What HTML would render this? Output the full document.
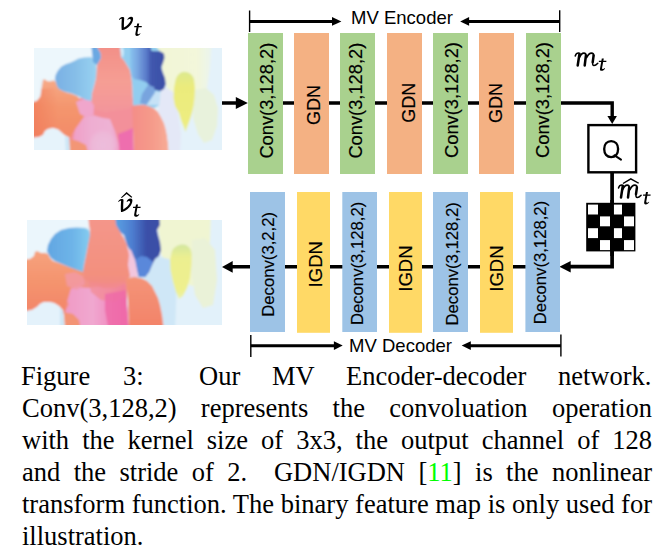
<!DOCTYPE html>
<html><head><meta charset="utf-8">
<style>
html,body{margin:0;padding:0;background:#fff;}
body{width:669px;height:558px;position:relative;overflow:hidden;}
svg{position:absolute;left:0;top:0;}
.cap{position:absolute;left:22px;width:630px;font-family:"Liberation Serif",serif;font-size:26.5px;color:#000;white-space:nowrap;}
.ln{position:absolute;left:0;width:630px;height:32px;line-height:32px;text-align:justify;text-align-last:justify;}
.last{text-align:left;text-align-last:left;}
.l1 span{position:absolute;top:0;}
</style></head>
<body>
<svg width="669" height="558" viewBox="0 0 669 558">
<defs>
  <clipPath id="c1"><rect x="0" y="0" width="188" height="102"/></clipPath>
  <clipPath id="c2"><rect x="0" y="0" width="195" height="105"/></clipPath>
  <filter id="bl" x="-10%" y="-10%" width="120%" height="120%"><feGaussianBlur stdDeviation="0.85"/></filter>
  <filter id="bl2" x="-10%" y="-10%" width="120%" height="120%"><feGaussianBlur stdDeviation="1.2"/></filter>

  <linearGradient id="gPaleY" x1="118" y1="0" x2="178" y2="0" gradientUnits="userSpaceOnUse">
    <stop offset="0" stop-color="#f2f6d6"/><stop offset="0.75" stop-color="#f3f7da"/><stop offset="1" stop-color="#eaf4ee"/>
  </linearGradient>
  <linearGradient id="gSalOv" x1="0" y1="0" x2="24" y2="0" gradientUnits="userSpaceOnUse">
    <stop offset="0" stop-color="#f07454" stop-opacity="0.55"/><stop offset="1" stop-color="#f07454" stop-opacity="0"/>
  </linearGradient>
  <radialGradient id="rgPink"><stop offset="0" stop-color="#ecbedc" stop-opacity="0.9"/><stop offset="0.7" stop-color="#ecbedc" stop-opacity="0.6"/><stop offset="1" stop-color="#ecbedc" stop-opacity="0"/></radialGradient>
  <linearGradient id="gPink" x1="38" y1="0" x2="86" y2="0" gradientUnits="userSpaceOnUse">
    <stop offset="0" stop-color="#f09ec6"/><stop offset="0.4" stop-color="#eeaed2"/><stop offset="0.8" stop-color="#eeb2d4"/><stop offset="1" stop-color="#f0a0c8"/>
  </linearGradient>
  <linearGradient id="gSalL" x1="0" y1="31" x2="0" y2="92" gradientUnits="userSpaceOnUse">
    <stop offset="0" stop-color="#f6aa88"/><stop offset="0.45" stop-color="#f4966e"/><stop offset="1" stop-color="#f38a68"/>
  </linearGradient>
  <linearGradient id="gSalC" x1="0" y1="0" x2="0" y2="68" gradientUnits="userSpaceOnUse">
    <stop offset="0" stop-color="#f39088"/><stop offset="0.5" stop-color="#f59e94"/><stop offset="1" stop-color="#f3949c"/>
  </linearGradient>
  <linearGradient id="gSalR" x1="99" y1="0" x2="135" y2="0" gradientUnits="userSpaceOnUse">
    <stop offset="0" stop-color="#f48e88"/><stop offset="0.5" stop-color="#f59a8a"/><stop offset="1" stop-color="#f8ac96"/>
  </linearGradient>
  <linearGradient id="gBlueL" x1="21" y1="0" x2="62" y2="0" gradientUnits="userSpaceOnUse">
    <stop offset="0" stop-color="#7ab0e4"/><stop offset="0.5" stop-color="#86bee8"/><stop offset="1" stop-color="#98d2f2"/>
  </linearGradient>
  <linearGradient id="gDark" x1="96" y1="0" x2="131" y2="0" gradientUnits="userSpaceOnUse">
    <stop offset="0" stop-color="#88c4ee"/><stop offset="0.2" stop-color="#7aa8e2"/><stop offset="0.48" stop-color="#5878c8"/><stop offset="0.6" stop-color="#4058ae"/><stop offset="1" stop-color="#3b4ea6"/>
  </linearGradient>
  <linearGradient id="gYel" x1="0" y1="24" x2="0" y2="84" gradientUnits="userSpaceOnUse">
    <stop offset="0" stop-color="#dde98e"/><stop offset="0.25" stop-color="#ebeb7c"/><stop offset="0.85" stop-color="#eded80"/><stop offset="1" stop-color="#e6efa6"/>
  </linearGradient>
<linearGradient id="gPink2" x1="36" y1="0" x2="102" y2="0" gradientUnits="userSpaceOnUse">
    <stop offset="0" stop-color="#f09ac4"/><stop offset="0.45" stop-color="#f0a8d0"/><stop offset="0.7" stop-color="#f090c2"/><stop offset="1" stop-color="#ee66a8"/>
  </linearGradient>
  <linearGradient id="gSalL2" x1="0" y1="31" x2="0" y2="92" gradientUnits="userSpaceOnUse">
    <stop offset="0" stop-color="#f6a27e"/><stop offset="0.5" stop-color="#f4946e"/><stop offset="1" stop-color="#f3866a"/>
  </linearGradient>
  <linearGradient id="gSalC2" x1="0" y1="0" x2="0" y2="68" gradientUnits="userSpaceOnUse">
    <stop offset="0" stop-color="#f4968a"/><stop offset="0.8" stop-color="#f3907e"/><stop offset="1" stop-color="#f28a8a"/>
  </linearGradient>
  <linearGradient id="gSalR2" x1="0" y1="57" x2="0" y2="105" gradientUnits="userSpaceOnUse">
    <stop offset="0" stop-color="#f49478"/><stop offset="1" stop-color="#f3846a"/>
  </linearGradient>
  <linearGradient id="gBlueL2" x1="20" y1="0" x2="63" y2="0" gradientUnits="userSpaceOnUse">
    <stop offset="0" stop-color="#62a6e2"/><stop offset="0.6" stop-color="#6eb4e8"/><stop offset="1" stop-color="#84ccf0"/>
  </linearGradient>
  <linearGradient id="gDark2" x1="86" y1="0" x2="134" y2="0" gradientUnits="userSpaceOnUse">
    <stop offset="0" stop-color="#5aa6e6"/><stop offset="0.4" stop-color="#4e7ed0"/><stop offset="0.7" stop-color="#3a50a8"/><stop offset="1" stop-color="#3b4ea6"/>
  </linearGradient>
  <linearGradient id="gYel2" x1="0" y1="24" x2="0" y2="79" gradientUnits="userSpaceOnUse">
    <stop offset="0" stop-color="#d2e6a0"/><stop offset="0.25" stop-color="#ecef90"/><stop offset="0.85" stop-color="#eef08e"/><stop offset="1" stop-color="#eaf2b0"/>
  </linearGradient>
<g id="flow2">
  <rect x="-6" y="-6" width="207" height="117" fill="#e2f1fa"/>
  <path d="M-6,-6 H64 V7 L50,7.5 L42,8 L34,10 L28,14 L24,19 L21,25 L20,31 L14,33 L10,31 L8,32 L7,36 L3,39 L-6,40 Z" fill="#ebf6fc"/>
  <path d="M36,48 L100,48 L100,111 L36,111 Z" fill="#f2928a"/>
  <!-- pink region -->
  <path d="M40,70 L50,67 L62,68 L75,66 L98,62 L102,111 L42,111 L40,100 L38,92 L42,84 L38,78 Z" fill="url(#gPink2)"/>
  <!-- left salmon -->
  <path d="M-6,40 L3,39 L7,36 L8,32 L10,31 L14,33 L18,33 L21,34 L23,38 L26,41 L32,43 L40,46 L48,49 L55,52 L57,58 L52,64 L44,68 L40,82 L38,92 L36,90 L32,86 L27,83 L22,82 L17,82 L13,84 L10,87 L5,90 L-6,92 Z" fill="url(#gSalL2)"/>
  <path d="M37,92 L46,94 L52,100 L54,111 L36,111 Z" fill="#f39474"/>
  <!-- pale yellow -->
  <path d="M128,-6 L184,-6 L183,20 L180,45 L176,62 L165,66 L150,60 L140,45 L134,34 L133,20 L131,8 Z" fill="#f0f5d2"/>
  <!-- light blue region under dark -->
  <path d="M104,34 L130,36 L145,40 L150,60 L148,111 L137,111 L135,95 L133,85 L131,78 L128,72 L125,66 L120,61 L115,58.5 L104,58 Z" fill="#cfe7f7"/>
  <!-- dark blob -->
  <path d="M84,-6 L132,-6 L133,5 L130,10 L131,15 L133,22 L134,30 L132,36 L128,39 L125,45 L122,52 L118,57 L112,57 L110,50 L108,40 L104,32 L100,25 L97,15 L90,10 L86,5 Z" fill="url(#gDark2)"/>
  <path d="M108,40 L114,36 L120,37 L126,42 L122,52 L118,57 L112,57 L110,50 Z" fill="#5a88da"/>
  <!-- pink-lavender patch right of column -->
  <path d="M99,28 L104,30 L108,40 L110,50 L111,57 L101,57 L100,40 Z" fill="#f2c6de"/>
  <!-- central salmon column -->
  <path d="M61,-6 L88,-6 L89,5 L92,10 L95,15 L97,18 L100,25 L102,35 L101,45 L103,56 L98,64 L88,68 L76,68 L64,64 L57,58 L56,50 L58,40 L60,30 L61.5,20 L63,10 L62,5 Z" fill="url(#gSalC2)"/>
  <path d="M62,62 L80,64 L98,62 L99,76 L88,82 L74,80 L64,72 Z" fill="#f28a90" opacity="0.7"/>
  <path d="M78,74 L99,70 L102,111 L82,111 L78,90 Z" fill="#ef6aa8" opacity="0.85"/>
  <path d="M38,54 L48,52 L56,56 L58,64 L50,70 L40,66 Z" fill="#f29aa8" opacity="0.8"/>
  <!-- big right salmon -->
  <path d="M99,58 L108,57 L115,58.5 L120,61 L125,66 L128,72 L131,78 L133,85 L135,95 L137,111 L102,111 L101,80 Z" fill="url(#gSalR2)"/>
  <!-- blue blob -->
  <path d="M20,31 L21,25 L24,19 L28,14 L34,10 L42,8 L50,7.5 L58,8 L62,10 L63,15 L61,25 L59,35 L57,45 L56,52 L50,50 L42,47 L35,44 L28,41 L24,38 L22,35 Z" fill="url(#gBlueL2)"/>
  <!-- pale streaks right -->
  <path d="M165,20 L178,18 L188,30 L190,60 L186,85 L176,88 L168,75 L164,50 Z" fill="#eaf2d8"/>
  <!-- yellow blob -->
  <path d="M156,24.5 C161,25 164,28 164.7,34 L164.5,45 L163,58 L160,68 L156,76 L152,79 L149,72 L146,62 L143.5,50 L143,40 L145,31 C147,27 151,24.5 156,24.5 Z" fill="url(#gYel2)"/>
  <!-- white bottom-left -->
  <path d="M-6,92 L5,90 L10,87 L13,84 L17,82 L22,82 L27,83 L32,86 L35,90 L37,95 L38,111 L-6,111 Z" fill="#e4f2fb"/>
  <path d="M33,88 L36,91 L38,111 L33,111 Z" fill="#cde6f6"/>
</g>
<g id="flow">
  <rect x="-6" y="-6" width="200" height="114" fill="#e4f2fa"/>
  <path d="M-6,-6 H60 V9 L50,9.5 L43,10 L38,13.5 L33,15.5 L27,18 L23,22 L21,31 L19,31.5 L16,32 L13,34 L11,33 L9,31 L6.5,31.5 L6,40 L5,48 L4,52 L-6,53 Z" fill="#edf7fc"/>
  <path d="M35,50 L99,50 L99,108 L35,108 Z" fill="#f3909a"/>
  <!-- pink main region -->
  <path d="M50,68.5 L59.5,67.3 L68,69.7 L76,71 L81,83 L84.6,95 L86,108 L52,108 L50,100 L44,96 L39,95 L40,86 L41.5,80.5 Z" fill="url(#gPink)"/>
  <ellipse cx="69" cy="97" rx="15" ry="16" fill="url(#rgPink)"/>
  <path d="M84,86 L92,83 L99,80 L100,108 L86,108 Z" fill="#ee6eae"/>
  <!-- left salmon blob -->
  <path d="M9.1,31.8 L10.8,31.3 L12.9,32.9 L16.1,33.5 L19.4,32.4 L21.5,33.5 L23.1,37.8 L25.3,41 L29,43.1 L33.3,44.7 L37.6,45.8 L43,48 L45,50 L44,56 L45,63 L50,68.5 L41.5,80.5 L38,86 L37,90 L32,88 L29,86 L27,84 L24,81.5 L19,80 L14,81 L11,83 L9,87 L5,89 L-6,90.5 L-6,54 L0,53.9 L3.2,52.8 L6.5,48.5 L7.5,41 Z" fill="url(#gSalL)"/>
  <path d="M-6,54 L0,53.9 L3.2,52.8 L6.5,48.5 L7.5,41 L20,40 L26,60 L22,80 L14,81 L11,83 L9,87 L5,89 L-6,90.5 Z" fill="url(#gSalOv)"/>
  <path d="M36,91 L44,93 L52,97 L55,108 L35,108 Z" fill="#f39676"/>
  <!-- central salmon column -->
  <path d="M63.5,-6 L86,-6 L87,9 L90,12 L93,17 L96,22 L97.5,30 L98.5,40 L99,58 L94,61 L84,62 L72,64 L62,62 L58,56 L57,52 L58,45 L60,38 L62,30 L62.5,22 L63,17 L67,10 L66.5,5 L63.5,0 Z" fill="url(#gSalC)"/>
  <!-- pink lobe -->
  <path d="M42,54 L50,51 L57,52.5 L60,58 L59.5,67 L52,69 L46,66 Z" fill="#f0a6cc"/>
  <!-- big right salmon -->
  <path d="M98,57.5 L105,56 L110,56.5 L115,58 L120,60.5 L124,64 L127,69 L130,75 L131.5,80 L133,87 L134,95 L135,108 L100,108 L99,80 Z" fill="url(#gSalR)"/>
  <!-- blue blob left -->
  <path d="M21,31 L21.6,27 L23.6,23.2 L27.2,18.7 L31.7,16.3 L36.2,14.7 L40.2,12.9 L45,10.5 L50,9.5 L57,9 L62,14 L62.5,22 L62,30 L60,38 L58,45 L57.5,53 L52,52 L45,48.5 L38,45.5 L30,43.5 L25,41 L23,38 Z" fill="url(#gBlueL)"/>
  <path d="M57,-6 L63.5,-6 L63.5,0 L66.5,5 L67,10 L63,17 L59,14 Z" fill="#6aa8e2"/>
  <!-- light blue base right of column -->
  <path d="M86,-6 L128,-6 L128,56 L120,60 L110,56.5 L99,57.5 L98.5,40 L97.5,30 L96,22 L93,17 L90,12 L87,9 Z" fill="#92cdef"/>
  <path d="M86.2,0 L89,-1 L89.8,4 L89.2,9 L87.4,8.5 L87,4 Z" fill="#d4ecfa"/>
  <!-- pale yellow region -->
  <path d="M118,-6 L178,-6 L176,20 L173,40 L168,55 L160,52 L150,48 L140,45 L133,40 L131,30 L128,20 L130,8 Z" fill="url(#gPaleY)"/>
  <!-- dark blue blob -->
  <path d="M96,-6 L116.5,-6 L117,2 L118,3 L126,3.3 L130,5.6 L130.5,10 L129,15 L127.2,19.5 L129,25 L131,30 L131.8,36.3 L130,41 L126.5,43 L121,42 L116,38 L112,34 L106,32 L100,31 L97.5,28 L96.5,20 Z" fill="url(#gDark)"/>
  <!-- medium blue streak & pale patch below -->
  <path d="M106,55 L112,57 L121,45 L120,39 L114,37 L108,46 Z" fill="#78a4de"/>
  <path d="M113,57 L126,57 L127.5,45 L122,43 Z" fill="#c6e2f6"/>
  <!-- lavender -->
  <path d="M126.5,43 L133,40 L140,45 L143,58 L145,72 L147,86 L146,108 L135,108 L134,95 L133,87 L131.5,80 L130,75 L127,69 L124,64 L126,52 Z" fill="#e4e8f7"/>
  <!-- pale green -->
  <path d="M160,42 L172,40 L180,47 L184,60 L183,78 L178,92 L170,95 L164,86 L159,70 Z" fill="#e8f2dc"/>
  <!-- yellow blob -->
  <path d="M150,23.7 C155,24 158,26 160,31 L161,40 L160.5,50 L159.5,58 L158,65 L156.5,70 L154,77 L151.5,84 L150,80 L147,72 L145,65 L141,58 L139.5,50 L140,40 L141.5,32 C143,27 146,24 150,23.7 Z" fill="url(#gYel)"/>
  <!-- white bottom-left -->
  <path d="M-6,90.5 L5,89 L9,87 L11,83 L14,81 L19,80 L24,81.5 L27,84 L29,86 L32,88 L35,90 L36,108 L-6,108 Z" fill="#e6f3fb"/>
  <path d="M31,88 L35,90 L36,108 L32,108 Z" fill="#cce6f6"/>
</g>
</defs>

<!-- top flow image -->
<g transform="translate(34,48)" clip-path="url(#c1)">
  <g filter="url(#bl)"><use href="#flow"/></g>
</g>
<!-- bottom flow image -->
<g transform="translate(27,220)" clip-path="url(#c2)">
  <g filter="url(#bl2)"><use href="#flow2"/></g>
</g>

<!-- lines behind boxes -->
<g stroke="#000" fill="none">
  <path d="M222,103 H238" stroke-width="3.5"/>
  <path d="M248,103 H612.2 V117" stroke-width="3.4"/>
  <path d="M612.1,173 V266.7 H569" stroke-width="3.7"/>
  <path d="M560,266.8 H232" stroke-width="3.6"/>
  <!-- brackets -->
  <path d="M249.6,10.5 V32" stroke-width="1.4"/>
  <path d="M249.6,21.4 H334" stroke-width="3"/>
  <path d="M468,21.4 H559.7" stroke-width="3"/>
  <path d="M559.7,10.2 V31.9" stroke-width="1.4"/>
  <path d="M250.8,335 V357" stroke-width="1.4"/>
  <path d="M250.8,345.7 H335" stroke-width="2.9"/>
  <path d="M469,345.7 H560.9" stroke-width="2.9"/>
  <path d="M560.9,334.4 V356.5" stroke-width="1.4"/>
</g>
<g fill="#000">
  <polygon points="235.8,97 247.8,103 235.8,109"/>
  <polygon points="607.4,115.9 616.9,115.9 612.2,124"/>
  <polygon points="570.7,260.9 559.4,266.7 570.7,272.4"/>
  <polygon points="232.7,261 222,266.9 232.7,272.7"/>
  <polygon points="332,17 341.4,21.4 332,25.8"/>
  <polygon points="469.1,17 460.2,21.4 469.1,25.8"/>
  <polygon points="333.9,341.2 342.7,345.6 333.9,350"/>
  <polygon points="470.8,341.2 461.7,345.6 470.8,350"/>
</g>

<!-- encoder boxes -->
<g>
  <rect x="248" y="33" width="35" height="141" fill="#a9d18e"/>
  <rect x="294" y="33" width="35" height="141" fill="#f4b183"/>
  <rect x="340" y="33" width="35" height="141" fill="#a9d18e"/>
  <rect x="387" y="33" width="35" height="141" fill="#f4b183"/>
  <rect x="433" y="33" width="35" height="141" fill="#a9d18e"/>
  <rect x="479" y="33" width="35" height="141" fill="#f4b183"/>
  <rect x="526" y="33" width="35" height="141" fill="#a9d18e"/>
</g>
<!-- decoder boxes -->
<g>
  <rect x="250" y="192" width="35" height="140" fill="#9dc3e6"/>
  <rect x="297" y="192" width="33" height="140.8" fill="#ffd966"/>
  <rect x="342.3" y="192" width="34.7" height="140" fill="#9dc3e6"/>
  <rect x="389" y="192" width="33" height="140.8" fill="#ffd966"/>
  <rect x="433" y="192" width="35" height="140" fill="#9dc3e6"/>
  <rect x="480" y="192" width="33" height="140.8" fill="#ffd966"/>
  <rect x="525.4" y="192" width="34.6" height="140" fill="#9dc3e6"/>
</g>

<!-- box labels -->
<g font-family="Liberation Sans, sans-serif" fill="#000" stroke="#000" stroke-width="0.18" text-anchor="middle">
  <text transform="translate(272.9,100.7) rotate(-90)" font-size="18.3">Conv(3,128,2)</text>
  <text transform="translate(320.0,105.1) rotate(-90)" font-size="18">GDN</text>
  <text transform="translate(362.0,100.7) rotate(-90)" font-size="18.3">Conv(3,128,2)</text>
  <text transform="translate(414.8,102.8) rotate(-90)" font-size="18">GDN</text>
  <text transform="translate(457.9,100.0) rotate(-90)" font-size="18.3">Conv(3,128,2)</text>
  <text transform="translate(502.0,102.9) rotate(-90)" font-size="18">GDN</text>
  <text transform="translate(549.0,100.0) rotate(-90)" font-size="18.3">Conv(3,128,2)</text>

  <text transform="translate(274.1,264.35) rotate(-90)" font-size="16.7">Deconv(3,2,2)</text>
  <text transform="translate(322.0,264.25) rotate(-90)" font-size="18.6">IGDN</text>
  <text transform="translate(363.3,263.4) rotate(-90)" font-size="16.7">Deconv(3,128,2)</text>
  <text transform="translate(412.2,268.55) rotate(-90)" font-size="18.6">IGDN</text>
  <text transform="translate(458.1,263.85) rotate(-90)" font-size="16.7">Deconv(3,128,2)</text>
  <text transform="translate(503.2,268.55) rotate(-90)" font-size="18.6">IGDN</text>
  <text transform="translate(546.1,262.5) rotate(-90)" font-size="16.7">Deconv(3,128,2)</text>
</g>

<!-- bracket labels -->
<g font-family="Liberation Sans, sans-serif" fill="#000" font-size="18">
  <text x="351.1" y="23.8" font-size="18.5">MV Encoder</text>
  <text x="349.1" y="351.7" font-size="18.5">MV Decoder</text>
</g>

<!-- Q box -->
<rect x="588.4" y="125.1" width="47.7" height="47.2" fill="#fff" stroke="#000" stroke-width="2.4"/>
<path d="M611.15,141.15 C615.32,141.15 618.1,144.33 618.1,149.1 C618.1,153.87 615.32,157.04999999999998 611.15,157.04999999999998 C606.98,157.04999999999998 604.1999999999999,153.87 604.1999999999999,149.1 C604.1999999999999,144.33 606.98,141.15 611.15,141.15 Z" fill="none" stroke="#000" stroke-width="2.35"/>
<path d="M614.4,155.4 Q617.5,157.2 621.0,159.6" fill="none" stroke="#000" stroke-width="2.0" stroke-linecap="round"/>

<!-- checkerboard -->
<g>
  <rect x="586.2" y="202.8" width="49.2" height="48.6" fill="#000"/>
  <g fill="#fff">
    <rect x="588" y="204.6" width="10" height="9.9"/>
    <rect x="612" y="204.6" width="10" height="9.9"/>
    <rect x="600" y="216.4" width="10" height="9.9"/>
    <rect x="624" y="216.4" width="10" height="9.9"/>
    <rect x="588" y="228.2" width="10" height="9.9"/>
    <rect x="612" y="228.2" width="10" height="9.9"/>
    <rect x="600" y="240.1" width="10" height="10"/>
    <rect x="624" y="240.1" width="10" height="10"/>
  </g>
  <path d="M612.1,200 V256" stroke="#000" stroke-width="3.7"/>
</g>

<!-- math labels -->
<defs>
  <path id="gv" d="M118.9,19.8 C119.4,18.3 120.6,17.2 122.2,17.0 C123.2,16.9 124.1,17.2 124.2,18.0 C124.0,21 123.8,24.5 123.9,27.6 C126.9,26.0 129.6,23.4 130.8,20.6 C131.0,19.8 130.6,19.1 129.9,19.0 C129.0,19.0 128.0,19.6 127.3,20.2 C127.7,18.2 129.3,16.7 131.2,16.7 C132.5,16.7 133.2,17.6 133.1,18.9 C132.8,23.5 128.2,28.6 122.7,30.1 L121.7,30.0 C121.3,26.5 121.6,22 121.8,18.8 C121.0,18.7 120.0,19.2 119.4,20.1 Z"/>
  <g id="gt">
    <path d="M137.2,23.6 L139.2,23.6 L137.5,32.8 C137.4,33.8 137.7,34.2 138.3,34.2 C138.9,34.2 139.6,33.7 140.1,33.2 L140.5,33.6 C139.6,35.0 138.4,35.9 136.9,35.9 C135.6,35.9 135.1,35.0 135.4,33.5 Z"/>
    <path d="M134.3,25.9 L141.8,25.9 L141.7,27.2 L134.2,27.2 Z"/>
  </g>
  <g id="gm" fill="none" stroke="#000" stroke-linecap="round">
    <path d="M575.2,56 C575.8,54 577,53.1 578.6,53.1" stroke-width="1.5"/>
    <path d="M579.5,53.8 L577.7,65.5" stroke-width="2.5"/>
    <path d="M579.4,57.5 C580.7,54.5 582.2,53.2 583.9,53.2 C585.4,53.2 586.1,54.2 585.9,55.6" stroke-width="1.7"/>
    <path d="M585.9,55.6 L584.7,65.5" stroke-width="2.5"/>
    <path d="M586.7,57.5 C588.1,54.5 589.7,53.2 591.5,53.2 C593.1,53.2 593.8,54.2 593.6,55.6" stroke-width="1.7"/>
    <path d="M593.6,55.6 L592.7,62.2" stroke-width="2.5"/>
    <path d="M592.7,62.2 C592.4,64.6 592.9,65.6 594.0,65.6 C595.2,65.6 596.5,64.6 597.8,63.2" stroke-width="1.5"/>
  </g>
</defs>
<g fill="#000">
  <use href="#gv"/>
  <use href="#gt"/>
  <use href="#gv" transform="translate(-0.7,181.9)"/>
  <use href="#gt" transform="translate(-1.2,180.8)"/>
  <path d="M121.0,197.4 L126.6,192.1 L132.3,197.1 L131.4,197.8 L126.6,193.9 L121.8,198.1 Z"/>
  <use href="#gm"/>
  <use href="#gt" transform="translate(464.6,34.9)"/>
  <use href="#gm" transform="translate(43.3,132)"/>
  <use href="#gt" transform="translate(508.8,168.5)"/>
  <path d="M622.6,182.9 L630.8,177.9 L639.1,182.8 L638.3,183.8 L630.8,179.7 L623.4,183.9 Z"/>
</g>
</svg>

<div class="cap">
  <div class="ln l1" style="top:360.3px"><span style="left:-1px">Figure</span><span style="left:101px">3:</span><span style="left:177px">Our</span><span style="left:250px">MV</span><span style="left:324px">Encoder-decoder</span><span style="left:536px">network.</span></div>
  <div class="ln" style="top:392.2px">Conv(3,128,2) represents the convoluation operation</div>
  <div class="ln" style="top:424.1px">with the kernel size of 3x3, the output channel of 128</div>
  <div class="ln" style="top:455.9px">and the stride of 2. &nbsp;GDN/IGDN [<span style="color:#00ff00">11</span>] is the nonlinear</div>
  <div class="ln" style="top:487.7px">transform function. The binary feature map is only used for</div>
  <div class="ln last" style="top:519.5px">illustration.</div>
</div>
</body></html>
